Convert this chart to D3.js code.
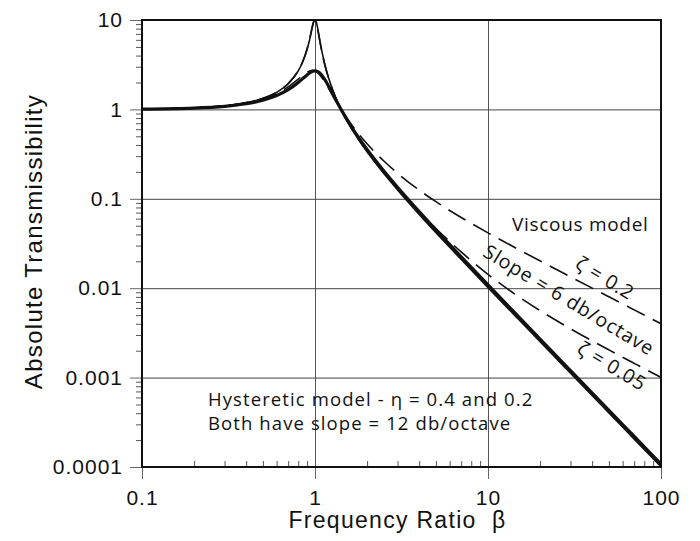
<!DOCTYPE html>
<html>
<head>
<meta charset="utf-8">
<script src="https://cdn.jsdelivr.net/npm/d3@7"></script>
<style>
  html, body { margin: 0; padding: 0; background: #fff; }
  svg { display: block; }
</style>
</head>
<body>
<svg id="chart" width="700" height="541"></svg>
<script>
// ---- data ----
const beta = [0.1,0.2,0.3,0.4,0.5,0.6,0.7,0.8,0.85,0.9,0.93,0.95,0.97,0.98,0.99,1.0,1.01,1.02,1.03,1.05,1.07,1.1,1.15,1.2,1.3,1.414,1.6,1.8,2,2.5,3,4,5,7,10,15,20,30,50,70,100];

// viscous model, zeta = 0.2 (dashed)
const viscousZeta02 = [1.0101,1.0414,1.0973,1.1843,1.3138,1.5046,1.7849,2.1798,2.4067,2.6110,2.6959,2.7268,2.7330,2.7262,2.7126,2.6926,2.6663,2.6342,2.5969,2.5088,2.4073,2.2409,1.9593,1.7035,1.3045,1.0,0.7041,0.5237,0.4125,0.2646,0.1931,0.1251,0.09285,0.06184,0.04161,0.027145,0.020202,0.013393,0.008013,0.005719,0.0040016];

// viscous model, zeta = 0.05 (dashed)
const viscousZeta005 = [1.0101,1.0416,1.0988,1.1901,1.3320,1.5585,1.9473,2.7203,3.4580,4.7757,6.1233,7.3791,8.8452,9.5062,9.9513,10.050,9.7600,9.1623,8.4014,6.8525,5.5834,4.2437,2.9399,2.2084,1.4362,1.0,0.6458,0.4521,0.3392,0.19612,0.13041,0.071777,0.046575,0.025428,0.014284,0.0080479,0.0056041,0.0035175,0.0020404,0.0014434,0.0010051];

// hysteretic model, low-peak curve (thick solid)
const hystHeavy = [1.0087,1.0356,1.0835,1.1576,1.2671,1.4271,1.6617,2.0014,2.2123,2.4321,2.5510,2.6160,2.6637,2.6795,2.6892,2.6926,2.6892,2.6790,2.6619,2.6083,2.5316,2.3840,2.0961,1.8112,1.3504,1.0,0.6688,0.4733,0.35586,0.20456,0.13446,0.071777,0.044870,0.022437,0.010879,0.0048082,0.0026993,0.0011980,0.00043099,0.00021985,0.00010771];

// hysteretic model, high-peak curve (thin solid)
const hystLight = [1.0100,1.0412,1.0978,1.1880,1.3282,1.5515,1.9337,2.6898,3.4071,4.6807,5.9791,7.1958,8.6519,9.3439,9.8566,10.050,9.8528,9.3182,8.5835,7.0181,5.7083,4.3208,2.9764,2.2273,1.4414,1.0,0.6429,0.4482,0.33481,0.19139,0.12561,0.066998,0.041874,0.020937,0.010151,0.0044866,0.0025188,0.0011179,0.00040215,0.00020514,0.00010051];

const xTicks = [0.1, 1, 10, 100];
const xTickLabels = ["0.1", "1", "10", "100"];
const yTicks = [10, 1, 0.1, 0.01, 0.001, 0.0001];
const yTickLabels = ["10", "1", "0.1", "0.01", "0.001", "0.0001"];

// ---- layout ----
const svg = d3.select("#chart");
const L = 142, R = 661, T = 20, B = 467;
const W = R - L, H = B - T;

const x = d3.scaleLog().domain([0.1, 100]).range([L, R]);
const y = d3.scaleLog().domain([0.0001, 10]).range([B, T]);

function minorTicks(lo, hi) {
  const out = [];
  for (let p = lo; p < hi; p++) {
    for (let k = 2; k <= 9; k++) out.push(k * Math.pow(10, p));
  }
  return out;
}
const xMinor = minorTicks(-1, 2);
const yMinor = minorTicks(-4, 1);

const tickFont = "'Liberation Sans', Arial, sans-serif";
const noteFont = "'Open Sans', 'Noto Sans', sans-serif";

// gridlines
svg.append("g")
  .attr("transform", `translate(0,${B})`)
  .call(d3.axisBottom(x).tickValues([1, 10]).tickSize(-H).tickFormat(""))
  .call(g => g.select(".domain").remove())
  .call(g => g.selectAll("line").attr("stroke", "#555").attr("stroke-width", 1));
svg.append("g")
  .attr("transform", `translate(${L},0)`)
  .call(d3.axisLeft(y).tickValues([1, 0.1, 0.01, 0.001]).tickSize(-W).tickFormat(""))
  .call(g => g.select(".domain").remove())
  .call(g => g.selectAll("line").attr("stroke", "#444").attr("stroke-width", 1));

// minor ticks
svg.append("g")
  .attr("transform", `translate(${L},0)`)
  .call(d3.axisLeft(y).tickValues(yMinor).tickSize(6).tickFormat(""))
  .call(g => g.select(".domain").remove())
  .call(g => g.selectAll("line").attr("stroke", "#555").attr("stroke-width", 1));
svg.append("g")
  .attr("transform", `translate(0,${B})`)
  .call(d3.axisBottom(x).tickValues(xMinor).tickSize(-6).tickFormat(""))
  .call(g => g.select(".domain").remove())
  .call(g => g.selectAll("line").attr("stroke", "#555").attr("stroke-width", 1));

// major ticks + labels
svg.append("g")
  .attr("transform", `translate(${L},0)`)
  .call(d3.axisLeft(y).tickValues(yTicks).tickSize(12).tickPadding(7)
        .tickFormat((d, i) => yTickLabels[i]))
  .call(g => g.select(".domain").remove())
  .call(g => g.selectAll("line").attr("stroke", "#666").attr("stroke-width", 1))
  .call(g => g.selectAll("text")
        .attr("font-family", tickFont).attr("font-size", 21)
        .attr("letter-spacing", "1px").attr("fill", "#111"));
svg.append("g")
  .attr("transform", `translate(0,${B})`)
  .call(d3.axisBottom(x).tickValues(xTicks).tickSize(12).tickPadding(11)
        .tickFormat((d, i) => xTickLabels[i]))
  .call(g => g.select(".domain").remove())
  .call(g => g.selectAll("line").attr("stroke", "#666").attr("stroke-width", 1))
  .call(g => g.selectAll("text")
        .attr("font-family", tickFont).attr("font-size", 21)
        .attr("letter-spacing", "1px").attr("fill", "#111"));

// frame
svg.append("rect")
  .attr("x", L).attr("y", T).attr("width", W).attr("height", H)
  .attr("fill", "none").attr("stroke", "#111").attr("stroke-width", 2);

// curves
const line = d3.line()
  .x(d => x(d[0]))
  .y(d => y(d[1]))
  .curve(d3.curveMonotoneX);

function series(vals) { return beta.map((b, i) => [b, vals[i]]); }

const curves = [
  { v: viscousZeta02, w: 1.6, dash: "20,9" },
  { v: viscousZeta005, w: 1.6, dash: "20,9" },
  { v: hystLight, w: 1.6, dash: null },
  { v: hystHeavy, w: 3.2, dash: null }
];
curves.forEach(c => {
  svg.append("path")
    .datum(series(c.v))
    .attr("d", line)
    .attr("fill", "none")
    .attr("stroke", "#111")
    .attr("stroke-width", c.w)
    .attr("stroke-linejoin", "round")
    .attr("stroke-dasharray", c.dash);
});

// annotations
svg.append("text")
  .attr("x", 512).attr("y", 231)
  .attr("font-family", noteFont).attr("font-size", 19)
  .attr("letter-spacing", "0.7px").attr("fill", "#111")
  .text("Viscous model");

const rotated = [
  { t: "ζ = 0.2", cx: 605, cy: 278 },
  { t: "Slope = 6 db/octave", cx: 569, cy: 300 },
  { t: "ζ = 0.05", cx: 612, cy: 366 }
];
rotated.forEach(r => {
  svg.append("text")
    .attr("transform", `translate(${r.cx},${r.cy}) rotate(31)`)
    .attr("text-anchor", "middle").attr("dy", "0.35em")
    .attr("font-family", noteFont).attr("font-size", 19.5)
    .attr("letter-spacing", "0.9px").attr("fill", "#111")
    .text(r.t);
});

svg.append("text")
  .attr("x", 208).attr("y", 406)
  .attr("font-family", noteFont).attr("font-size", 18.5)
  .attr("letter-spacing", "1.1px").attr("fill", "#111")
  .text("Hysteretic model - η = 0.4 and 0.2");
svg.append("text")
  .attr("x", 208).attr("y", 430)
  .attr("font-family", noteFont).attr("font-size", 18.5)
  .attr("letter-spacing", "1.1px").attr("fill", "#111")
  .text("Both have slope = 12 db/octave");

// axis titles
svg.append("text")
  .attr("x", (287 + 508) / 2).attr("y", 528)
  .attr("text-anchor", "middle")
  .attr("font-family", tickFont).attr("font-size", 23)
  .attr("letter-spacing", "1.3px").attr("fill", "#111")
  .text("Frequency Ratio\u00A0\u00A0β");
svg.append("text")
  .attr("transform", `translate(42,${(93 + 390) / 2}) rotate(-90)`)
  .attr("text-anchor", "middle")
  .attr("font-family", tickFont).attr("font-size", 24)
  .attr("letter-spacing", "1.3px").attr("fill", "#111")
  .text("Absolute Transmissibility");
</script>
</body>
</html>
